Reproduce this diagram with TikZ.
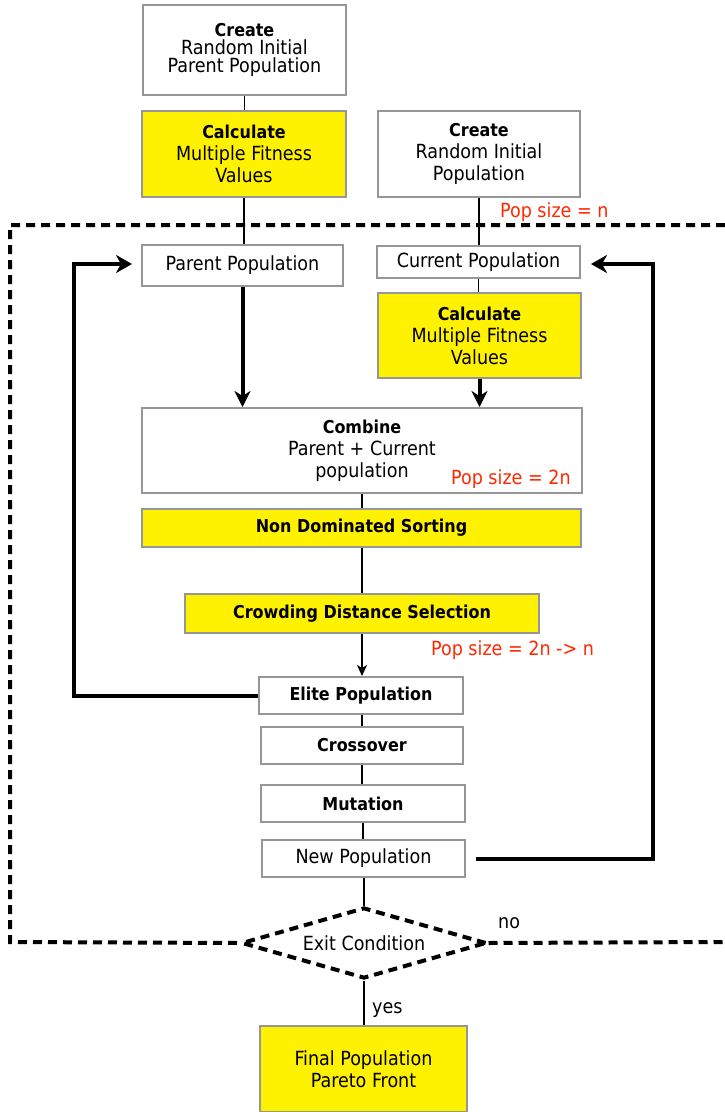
\documentclass[tikz,border=0pt]{standalone}
\usepackage{fontspec}
\setmainfont{DejaVu Sans Condensed}[BoldFeatures={Scale=0.91}]
\usepackage{tikz}
\usetikzlibrary{shapes}
\usetikzlibrary{positioning}
\usetikzlibrary{arrows.meta}
\usepackage{xcolor}
\definecolor{popred}{RGB}{255,40,0}
\definecolor{boxgray}{RGB}{150,150,150}

\begin{document}
\begin{tikzpicture}[x=1pt,y=-1pt,
  box/.style={draw=boxgray, line width=2pt, fill=white, align=center, inner sep=0pt, font=\fontsize{19.5}{22}\selectfont},
  ybox/.style={box, fill=yellow},
  link/.style={line width=1.5pt},
  flow/.style={line width=4pt, -{Stealth[length=16pt,width=16pt,inset=5pt]}},
  small/.style={line width=1.5pt, -{Stealth[length=11pt,width=10pt,inset=3pt]}},
  popsize/.style={text=popred, inner sep=0pt, font=\fontsize{19.5}{22}\selectfont},
  note/.style={inner sep=0pt, font=\fontsize{19.5}{22}\selectfont},
  loopdash/.style={line width=4pt, dash pattern=on 9pt off 6pt}]
\useasboundingbox (0,0) rectangle (725,1112);
\fill[white] (0,0) rectangle (725,1112);
% outer loop
\coordinate (lt) at (725,225);
\coordinate (ltl) at (10,225);
\coordinate (lbl) at (10,942);
\coordinate (lbr) at (725,942);
\node[draw, diamond, loopdash, fill=white, aspect=3.4, minimum width=245pt, minimum height=71pt, inner sep=0pt, font=\fontsize{19.5}{22}\selectfont] (exit) at (364,943) {Exit Condition};
\draw[loopdash] (lt) -- (ltl) -- (lbl) -- (exit.west);
\draw[loopdash] (exit.east) -- (lbr);
% boxes
\node[box, minimum width=203pt, minimum height=90pt, font=\fontsize{19.5}{18}\selectfont] (crPar) at (244.5,50) {\textbf{Create}\\Random Initial\\Parent Population};
\node[ybox, minimum width=204pt, minimum height=86pt] (calcL) at (244,154) {\textbf{Calculate}\\Multiple Fitness\\Values};
\node[box, minimum width=202pt, minimum height=86pt] (crCur) at (479,154) {\textbf{Create}\\Random Initial\\Population};
\node[box, minimum width=201pt, minimum height=41pt] (parPop) at (242.5,265.5) {Parent Population};
\node[box, minimum width=203pt, minimum height=32pt] (curPop) at (478.5,262) {Current Population};
\node[ybox, minimum width=203pt, minimum height=85pt] (calcR) at (479.5,335.5) {\textbf{Calculate}\\Multiple Fitness\\Values};
\node[box, minimum width=440pt, minimum height=85pt] (comb) at (362,450.5) {\textbf{Combine}\\Parent + Current\\population};
\node[ybox, minimum width=439pt, minimum height=38pt] (nds) at (361.5,528) {\textbf{Non Dominated Sorting}};
\node[ybox, minimum width=354pt, minimum height=39pt] (cds) at (362,613.5) {\textbf{Crowding Distance Selection}};
\node[box, minimum width=204pt, minimum height=37pt] (elite) at (361,695.5) {\textbf{Elite Population}};
\node[box, minimum width=202pt, minimum height=37pt] (cross) at (362,745.5) {\textbf{Crossover}};
\node[box, minimum width=204pt, minimum height=37pt] (mut) at (363,803.5) {\textbf{Mutation}};
\node[box, minimum width=203pt, minimum height=37pt] (newPop) at (363.5,858.5) {New Population};
\node[ybox, minimum width=207pt, minimum height=86pt] (final) at (363.5,1069) {Final Population\\Pareto Front};
% labels
\node[popsize, anchor=west] (pn) at (500,212) {Pop size = n};
\node[popsize, anchor=west] (p2n) at (451,479) {Pop size = 2n};
\node[popsize, anchor=west] (p2nn) at (431,650) {Pop size = 2n -> n};
\node[note, anchor=west] (no) at (498,923) {no};
\node[note, anchor=west] (yes) at (372,1010) {yes};
% connectors
\draw[link] (crPar.south) -- (crPar.south |- calcL.north);
\draw[link] (calcL.south) -- (calcL.south |- parPop.north);
\draw[link] (crCur.south) -- (crCur.south |- curPop.north);
\draw[link] (curPop.south) -- (curPop.south |- calcR.north);
\draw[flow] (parPop.south) -- (parPop.south |- comb.north);
\draw[flow] (calcR.south) -- (calcR.south |- comb.north);
\draw[link] (comb.south) -- (comb.south |- nds.north);
\draw[link] (cds.north |- nds.south) -- (cds.north);
\draw[small] (cds.south) -- (cds.south |- elite.north);
\draw[link] (cross.north |- elite.south) -- (cross.north);
\draw[link] (cross.south) -- (cross.south |- mut.north);
\draw[link] (mut.south) -- (mut.south |- newPop.north);
\draw[link] (exit.north |- newPop.south) -- (exit.north);
\draw[link] (exit.south) -- (exit.south |- final.north);
% feedback loops
\coordinate (lw) at (74,264);
\coordinate (rw) at (653,264);
\draw[flow, -{Stealth[length=16pt,width=18pt,inset=5pt]}] (elite.west) -| (lw) -- ([xshift=-9pt]parPop.west |- lw);
\draw[flow, -{Stealth[length=16pt,width=18pt,inset=5pt]}] ([xshift=10pt]newPop.east) -| (rw) -- ([xshift=10pt]curPop.east |- rw);
\end{tikzpicture}
\end{document}
